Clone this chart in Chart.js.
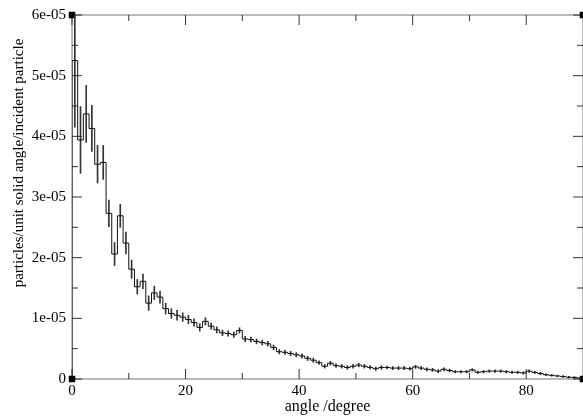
<!DOCTYPE html>
<html>
<head>
<meta charset="utf-8">
<script src="https://cdn.jsdelivr.net/npm/chart.js@4.4.1/dist/chart.umd.min.js"></script>
<style>
    html, body { margin: 0; padding: 0; background: #fff; }
    #wrap { width: 583px; height: 416px; position: relative; }
</style>
</head>
<body>
<div id="wrap"><canvas id="chart"></canvas></div>
<script>
// histogram bins, 1 degree wide, lower edge of each bin
const binStart = Array.from({ length: 90 }, (_, i) => i);

// particles per unit solid angle per incident particle, in units of 1e-05
const flux = [
    5.25, 3.94, 4.37, 4.13, 3.54, 3.57, 2.73, 2.06, 2.69, 2.24,
    1.81, 1.52, 1.61, 1.25, 1.42, 1.35, 1.16, 1.08, 1.05, 1.02,
    0.98, 0.93, 0.85, 0.95, 0.87, 0.81, 0.76, 0.75, 0.73, 0.80,
    0.66, 0.65, 0.62, 0.60, 0.58, 0.52, 0.45, 0.44, 0.42, 0.40,
    0.38, 0.34, 0.31, 0.27, 0.21, 0.26, 0.22, 0.21, 0.19, 0.21,
    0.23, 0.21, 0.19, 0.17, 0.19, 0.19, 0.18, 0.18, 0.18, 0.17,
    0.20, 0.18, 0.16, 0.15, 0.13, 0.16, 0.14, 0.12, 0.12, 0.12,
    0.15, 0.11, 0.12, 0.13, 0.13, 0.13, 0.12, 0.11, 0.11, 0.10,
    0.13, 0.11, 0.09, 0.07, 0.06, 0.05, 0.04, 0.03, 0.025, 0.015
];

// error bar half-heights, same units
const fluxErr = [
    1.10, 0.55, 0.47, 0.38, 0.31, 0.28, 0.22, 0.19, 0.19, 0.18,
    0.15, 0.12, 0.12, 0.12, 0.11, 0.10, 0.09, 0.08, 0.08, 0.07,
    0.07, 0.06, 0.06, 0.06, 0.05, 0.05, 0.045, 0.045, 0.045, 0.045,
    0.045, 0.04, 0.04, 0.04, 0.04, 0.04, 0.035, 0.035, 0.035, 0.035,
    0.035, 0.035, 0.035, 0.03, 0.03, 0.03, 0.03, 0.03, 0.03, 0.03,
    0.03, 0.03, 0.03, 0.03, 0.03, 0.025, 0.025, 0.025, 0.025, 0.025,
    0.025, 0.025, 0.025, 0.025, 0.025, 0.025, 0.025, 0.02, 0.02, 0.02,
    0.02, 0.02, 0.02, 0.02, 0.02, 0.02, 0.02, 0.02, 0.02, 0.02,
    0.02, 0.02, 0.02, 0.015, 0.015, 0.015, 0.015, 0.015, 0.015, 0.01
];

const UNIT = 1e-5;

// axis ticks
const xTicks = [0, 20, 40, 60, 80];
const xTickLabels = ['0', '20', '40', '60', '80'];
const xMinor = [10, 30, 50, 70];
const yTicks = [0, 1e-5, 2e-5, 3e-5, 4e-5, 5e-5, 6e-5];
const yTickLabels = ['0', '1e-05', '2e-05', '3e-05', '4e-05', '5e-05', '6e-05'];
const yMinor = [0.5e-5, 1.5e-5, 2.5e-5, 3.5e-5, 4.5e-5, 5.5e-5];

const xRange = [0, 90];
const yRange = [0, 6e-5];

const serif = '"Liberation Serif", "DejaVu Serif", serif';

// step outline: start at zero, hold each bin value over its width
const steps = [{ x: binStart[0], y: 0 }];
binStart.forEach((b, i) => steps.push({ x: b, y: flux[i] * UNIT }));
steps.push({ x: binStart[binStart.length - 1] + 1, y: flux[flux.length - 1] * UNIT });

const errBars = binStart.map((b, i) => ({
    x: b + 0.5,
    y: [(flux[i] - fluxErr[i]) * UNIT, (flux[i] + fluxErr[i]) * UNIT]
}));

const corners = [
    { x: xRange[0], y: yRange[0] },
    { x: xRange[0], y: yRange[1] },
    { x: xRange[1], y: yRange[1] },
    { x: xRange[1], y: yRange[0] }
];

// frame with inward ticks on all four sides
const framePlugin = {
    id: 'frame',
    beforeDatasetsDraw(chart) {
        const { ctx, chartArea: a, scales } = chart;
        const x = scales.x, y = scales.y;
        ctx.save();
        ctx.lineWidth = 1;
        ctx.strokeStyle = '#777';
        ctx.strokeRect(a.left, a.top, a.right - a.left, a.bottom - a.top);
        ctx.strokeStyle = '#333';
        ctx.beginPath();
        const xt = (v, len) => {
            const px = x.getPixelForValue(v);
            ctx.moveTo(px, a.bottom); ctx.lineTo(px, a.bottom - len);
            ctx.moveTo(px, a.top); ctx.lineTo(px, a.top + len);
        };
        const yt = (v, len) => {
            const py = y.getPixelForValue(v);
            ctx.moveTo(a.left, py); ctx.lineTo(a.left + len, py);
            ctx.moveTo(a.right, py); ctx.lineTo(a.right - len, py);
        };
        xTicks.forEach(v => xt(v, 10));
        xMinor.forEach(v => xt(v, 6));
        yTicks.forEach(v => yt(v, 10));
        yMinor.forEach(v => yt(v, 6));
        ctx.stroke();
        ctx.restore();
    },
    afterDraw(chart) {
        const { ctx } = chart;
        ctx.save();
        ctx.fillStyle = '#000';
        ctx.font = '15px ' + serif;
        ctx.textAlign = 'center';
        ctx.textBaseline = 'middle';
        ctx.translate(19, 163);
        ctx.rotate(-Math.PI / 2);
        ctx.fillText('particles/unit solid angle/incident particle', 0, 0);
        ctx.restore();
    }
};

new Chart(document.getElementById('chart'), {
    type: 'line',
    data: {
        datasets: [
            {
                data: steps,
                stepped: true,
                borderColor: '#111',
                borderWidth: 1,
                pointRadius: 0,
                fill: false
            },
            {
                type: 'bar',
                data: errBars,
                backgroundColor: '#333',
                borderWidth: 0,
                barThickness: 1,
                grouped: false
            },
            {
                data: corners,
                showLine: false,
                pointStyle: 'rect',
                pointRadius: 4.6,
                pointBackgroundColor: '#000',
                pointBorderWidth: 0,
                clip: false
            }
        ]
    },
    options: {
        responsive: true,
        maintainAspectRatio: false,
        animation: false,
        devicePixelRatio: 1,
        layout: { autoPadding: false, padding: { top: 15, right: -1, left: 0, bottom: 0 } },
        plugins: {
            legend: { display: false },
            tooltip: { enabled: false }
        },
        scales: {
            x: {
                type: 'linear',
                min: xRange[0],
                max: xRange[1],
                offset: false,
                grid: { display: false, drawTicks: false },
                border: { display: false },
                afterBuildTicks: s => { s.ticks = xTicks.map(v => ({ value: v })); },
                afterFit: s => { s.height = 37; s.paddingLeft = 0; s.paddingRight = 0; },
                ticks: {
                    color: '#000',
                    font: { family: serif, size: 15 },
                    padding: 3,
                    maxRotation: 0,
                    autoSkip: false,
                    callback: (v, i) => xTickLabels[i]
                },
                title: {
                    display: true,
                    text: 'angle /degree',
                    color: '#000',
                    font: { family: serif, size: 16 },
                    padding: 0
                }
            },
            y: {
                type: 'linear',
                min: yRange[0],
                max: yRange[1],
                grid: { display: false, drawTicks: false },
                border: { display: false },
                afterBuildTicks: s => { s.ticks = yTicks.map(v => ({ value: v })); },
                afterFit: s => { s.width = 72; s.paddingTop = 0; s.paddingBottom = 0; },
                ticks: {
                    color: '#000',
                    font: { family: serif, size: 15 },
                    padding: 6,
                    autoSkip: false,
                    callback: (v, i) => yTickLabels[i]
                }
            }
        }
    },
    plugins: [framePlugin]
});
</script>
</body>
</html>
